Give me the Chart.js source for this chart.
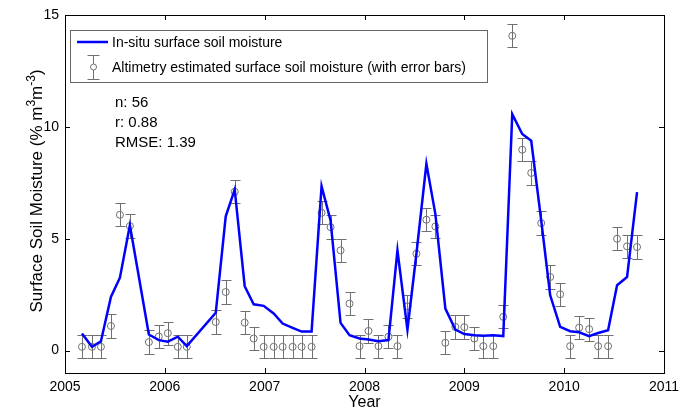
<!DOCTYPE html>
<html>
<head>
<meta charset="utf-8">
<script src="https://cdn.jsdelivr.net/npm/chart.js@4/dist/chart.umd.min.js"></script>
<style>
  html, body { margin: 0; padding: 0; background: #fff; }
  #wrap { width: 687px; height: 409px; }
</style>
</head>
<body>
<div id="wrap"><canvas id="soilChart" width="687" height="409"></canvas></div>
<script>
// sample dates (decimal year), ~35 day repeat, a few gaps
const years = [
    2005.17, 2005.27, 2005.36, 2005.46, 2005.55, 2005.65, 2005.84, 2005.94,
    2006.03, 2006.13, 2006.22, 2006.51, 2006.61, 2006.70, 2006.80, 2006.89, 2006.99,
    2007.09, 2007.18, 2007.28, 2007.37, 2007.47, 2007.57, 2007.66, 2007.76, 2007.85, 2007.95,
    2008.04, 2008.14, 2008.24, 2008.33, 2008.43, 2008.52, 2008.62, 2008.71, 2008.81, 2008.91,
    2009.00, 2009.10, 2009.19, 2009.29, 2009.39, 2009.48, 2009.58, 2009.67, 2009.77, 2009.86, 2009.96,
    2010.06, 2010.15, 2010.25, 2010.34, 2010.44, 2010.53, 2010.63, 2010.73
];
const inSitu = [
    0.77, 0.17, 0.42, 2.40, 3.26, 5.60, 0.72, 0.47,
    0.40, 0.62, 0.20, 1.69, 6.00, 7.20, 2.88, 2.07, 2.00,
    1.66, 1.21, 1.02, 0.85, 0.85, 7.35, 5.82, 1.24, 0.69, 0.54,
    0.50, 0.42, 0.47, 4.48, 0.94, 4.33, 8.35, 6.10, 1.88, 0.94,
    0.74, 0.69, 0.67, 0.69, 0.65, 10.57, 9.68, 9.38, 5.82, 2.47, 1.06,
    0.87, 0.82, 0.65, 0.79, 0.91, 2.92, 3.29, 7.08
];
const altimetry = [
    0.17, 0.17, 0.17, 1.10, 6.07, 5.57, 0.38, 0.63,
    0.78, 0.17, 0.17, 1.28, 2.62, 7.10, 1.25, 0.54, 0.17,
    0.17, 0.17, 0.17, 0.17, 0.17, 6.16, 5.52, 4.48, 2.10, 0.20,
    0.88, 0.20, 0.62, 0.20, 1.98, 4.33, 5.85, 5.55, 0.35, 1.06,
    1.05, 0.54, 0.20, 0.20, 1.51, 14.07, 8.98, 7.94, 5.70, 3.29, 2.52,
    0.20, 1.03, 0.96, 0.20, 0.20, 5.00, 4.66, 4.63
];
const altError = 0.52;

const xTicks = [2005, 2006, 2007, 2008, 2009, 2010, 2011];
const yTicks = [0, 5, 10, 15];
const legendLabels = ['In-situ surface soil moisture', 'Altimetry estimated surface soil moisture (with error bars)'];
const statLines = ['n: 56', 'r: 0.88', 'RMSE: 1.39'];

const FONT = 'Arial, "Liberation Sans", Helvetica, sans-serif';
const BLUE = '#0000ff';
const GREY = '#707070';

// error bars under the markers
const errorBars = {
    id: 'errorBars',
    beforeDatasetsDraw(chart) {
        const { ctx, scales: { x, y } } = chart;
        ctx.save();
        ctx.strokeStyle = GREY;
        ctx.lineWidth = 1;
        altimetry.forEach((v, i) => {
            const px = Math.round(x.getPixelForValue(years[i])) + 0.5;
            const top = Math.round(y.getPixelForValue(v + altError)) + 0.5;
            const bot = Math.round(y.getPixelForValue(v - altError)) + 0.5;
            ctx.beginPath();
            ctx.moveTo(px, top); ctx.lineTo(px, bot);
            ctx.moveTo(px - 5, top); ctx.lineTo(px + 5, top);
            ctx.moveTo(px - 5, bot); ctx.lineTo(px + 5, bot);
            ctx.stroke();
        });
        ctx.restore();
    }
};

// matlab style frame, inward ticks, legend, stats and titles
const decorations = {
    id: 'decorations',
    afterDraw(chart) {
        const { ctx, chartArea: a, scales: { x, y } } = chart;
        ctx.save();
        ctx.strokeStyle = '#000';
        ctx.lineWidth = 1;
        ctx.strokeRect(Math.round(a.left) + 0.5, Math.round(a.top) + 0.5,
            Math.round(a.right - a.left), Math.round(a.bottom - a.top));

        ctx.beginPath();
        xTicks.forEach(v => {
            const px = Math.round(x.getPixelForValue(v)) + 0.5;
            ctx.moveTo(px, a.bottom); ctx.lineTo(px, a.bottom - 5);
            ctx.moveTo(px, a.top); ctx.lineTo(px, a.top + 5);
        });
        yTicks.forEach(v => {
            const py = Math.round(y.getPixelForValue(v)) + 0.5;
            ctx.moveTo(a.left, py); ctx.lineTo(a.left + 5, py);
            ctx.moveTo(a.right, py); ctx.lineTo(a.right - 5, py);
        });
        ctx.stroke();

        // legend box
        ctx.fillStyle = '#fff';
        ctx.fillRect(70, 30, 417, 52);
        ctx.strokeStyle = '#666';
        ctx.strokeRect(70.5, 30.5, 417, 52);

        ctx.strokeStyle = BLUE;
        ctx.lineWidth = 2.5;
        ctx.beginPath();
        ctx.moveTo(77, 42); ctx.lineTo(108, 42);
        ctx.stroke();

        ctx.strokeStyle = GREY;
        ctx.lineWidth = 1;
        ctx.beginPath();
        ctx.moveTo(93.5, 55); ctx.lineTo(93.5, 79);
        ctx.moveTo(87.5, 55.5); ctx.lineTo(99.5, 55.5);
        ctx.moveTo(87.5, 79.5); ctx.lineTo(99.5, 79.5);
        ctx.stroke();
        ctx.fillStyle = '#fff';
        ctx.beginPath();
        ctx.arc(93.5, 67, 3, 0, Math.PI * 2);
        ctx.fill();
        ctx.stroke();

        ctx.fillStyle = '#000';
        ctx.font = '14px ' + FONT;
        ctx.textAlign = 'left';
        ctx.textBaseline = 'alphabetic';
        ctx.fillText(legendLabels[0], 112, 47);
        ctx.fillText(legendLabels[1], 112, 72);

        ctx.font = '15px ' + FONT;
        statLines.forEach((t, i) => ctx.fillText(t, 115, 107 + i * 20));

        // x title
        ctx.font = '16px ' + FONT;
        ctx.textAlign = 'center';
        ctx.fillText('Year', (a.left + a.right) / 2, 407);

        // y title with superscripts
        const parts = [
            ['Surface Soil Moisture (% m', false],
            ['3', true],
            ['m', false],
            ['-3', true],
            [')', false]
        ];
        const big = '17px ' + FONT;
        const small = '12px ' + FONT;
        let total = 0;
        parts.forEach(([t, sup]) => {
            ctx.font = sup ? small : big;
            total += ctx.measureText(t).width;
        });
        ctx.translate(42, 191);
        ctx.rotate(-Math.PI / 2);
        ctx.textAlign = 'left';
        let cx = -total / 2;
        parts.forEach(([t, sup]) => {
            ctx.font = sup ? small : big;
            ctx.fillText(t, cx, sup ? -7 : 0);
            cx += ctx.measureText(t).width;
        });
        ctx.restore();
    }
};

const ctx = document.getElementById('soilChart').getContext('2d');

new Chart(ctx, {
    type: 'scatter',
    data: {
        datasets: [
            {
                label: legendLabels[0],
                data: years.map((yr, i) => ({ x: yr, y: inSitu[i] })),
                showLine: true,
                borderColor: BLUE,
                borderWidth: 2.5,
                pointRadius: 0,
                tension: 0,
                order: 0
            },
            {
                label: legendLabels[1],
                data: years.map((yr, i) => ({ x: yr, y: altimetry[i] })),
                showLine: false,
                pointStyle: 'circle',
                pointRadius: 3.5,
                borderColor: GREY,
                borderWidth: 1,
                backgroundColor: 'rgba(0,0,0,0)',
                order: 1
            }
        ]
    },
    options: {
        responsive: false,
        animation: false,
        devicePixelRatio: 1,
        layout: { padding: { left: 0, top: 15, right: 23, bottom: 0 } },
        plugins: {
            legend: { display: false },
            tooltip: { enabled: false }
        },
        scales: {
            x: {
                type: 'linear',
                min: 2005,
                max: 2011,
                afterBuildTicks: (scale) => { scale.ticks = xTicks.map(v => ({ value: v })); },
                afterFit: (scale) => { scale.height = 36; },
                grid: { display: false, drawTicks: false },
                border: { display: false },
                ticks: {
                    color: '#000',
                    padding: 6,
                    maxRotation: 0,
                    font: { family: FONT, size: 14 },
                    callback: (v) => String(v)
                }
            },
            y: {
                type: 'linear',
                min: -1,
                max: 15,
                afterBuildTicks: (scale) => { scale.ticks = yTicks.map(v => ({ value: v })); },
                afterFit: (scale) => { scale.width = 65; },
                grid: { display: false, drawTicks: false },
                border: { display: false },
                ticks: {
                    color: '#000',
                    padding: 6,
                    font: { family: FONT, size: 14 },
                    callback: (v) => String(v)
                }
            }
        }
    },
    plugins: [errorBars, decorations]
});
</script>
</body>
</html>
